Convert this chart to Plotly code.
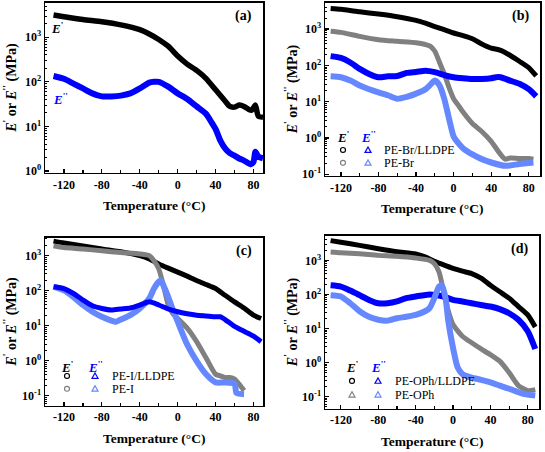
import plotly.graph_objects as go

W, H = 545, 452
FONT = "Times New Roman, Liberation Serif, serif"
BLACK = "#000000"
GRAY = "#808080"
BLUE = "#0000FF"
LBLUE = "#6688FF"

# ---------------- Panel (a): LLDPE ----------------
T_a_Ep = [-131, -120, -100, -80, -60, -40, -30, -20, -10, 0, 10, 20, 30, 40, 50, 55, 60, 65, 70, 75, 78, 82, 85, 90]
Ep_a = [3160, 2900, 2500, 2240, 1900, 1480, 1180, 890, 630, 380, 250, 180, 118, 66, 37, 28, 27, 30, 28, 24, 23, 30, 17, 16]
T_a_Epp = [-131, -120, -110, -100, -90, -80, -70, -60, -50, -40, -30, -25, -20, -10, 0, 10, 20, 30, 35, 40, 45, 50, 55, 60, 65, 70, 77, 80, 82, 85, 90]
Epp_a = [135, 117, 91, 71, 55, 47, 47, 49, 55, 71, 96, 100, 100, 78, 55, 41, 28, 19, 13, 8.7, 4.8, 3.2, 2.5, 2.2, 1.9, 1.7, 1.4, 1.6, 2.7, 2.1, 1.9]

# ---------------- Panel (b): PE-Br ----------------
T_b_Ep_mix = [-131, -120, -100, -80, -60, -40, -30, -20, -10, 0, 10, 20, 30, 40, 50, 60, 70, 80, 88]
Ep_b_mix = [3700, 3500, 3000, 2600, 2200, 1740, 1450, 1170, 960, 780, 660, 540, 390, 300, 260, 190, 130, 87, 51]
T_b_Ep_pure = [-131, -120, -100, -80, -60, -40, -30, -25, -20, -15, -10, -5, 0, 5, 10, 20, 30, 40, 50, 55, 60, 70, 80, 85]
Ep_b_pure = [870, 810, 630, 510, 460, 420, 375, 340, 245, 120, 58, 25, 12, 7.9, 5.2, 2.5, 1.5, 0.8, 0.35, 0.26, 0.28, 0.27, 0.27, 0.26]
T_b_Epp_mix = [-131, -120, -110, -100, -90, -80, -70, -60, -50, -40, -30, -20, -10, 0, 10, 20, 30, 40, 45, 50, 60, 70, 80, 88]
Epp_b_mix = [180, 160, 120, 80, 58, 47, 50, 51, 62, 66, 71, 65, 54, 47, 44, 42, 42, 44, 47, 47, 38, 31, 22, 14]
T_b_Epp_pure = [-131, -120, -110, -100, -90, -80, -70, -60, -50, -40, -30, -25, -20, -15, -10, -5, 0, 5, 10, 20, 30, 40, 55, 70, 85]
Epp_b_pure = [50, 47, 38, 28, 22, 18, 15, 12, 13.5, 16.6, 22, 29, 38, 28, 12, 3.5, 1.1, 0.72, 0.52, 0.35, 0.26, 0.21, 0.17, 0.19, 0.21]

# ---------------- Panel (c): PE-I ----------------
T_c_Ep_mix = [-131, -120, -100, -80, -60, -40, -30, -20, -10, 0, 10, 20, 30, 40, 50, 60, 70, 80, 88]
Ep_c_mix = [2600, 2300, 1900, 1550, 1290, 1000, 810, 580, 440, 340, 260, 195, 150, 115, 74, 48, 32, 20, 16]
T_c_Ep_pure = [-131, -120, -100, -80, -60, -40, -30, -25, -20, -15, -10, -5, 0, 10, 20, 30, 40, 45, 50, 55, 60, 65, 70]
Ep_c_pure = [1900, 1700, 1550, 1380, 1230, 1120, 1000, 720, 420, 140, 39, 22, 16, 8.5, 3.5, 1.2, 0.41, 0.37, 0.33, 0.33, 0.30, 0.21, 0.14]
T_c_Epp_mix = [-131, -120, -110, -100, -90, -80, -70, -60, -50, -40, -30, -20, -10, 0, 10, 20, 30, 40, 45, 50, 60, 70, 80, 88]
Epp_c_mix = [130, 115, 83, 54, 37, 31, 28, 30, 32, 39, 48, 39, 30, 25, 22, 20, 19, 18, 18, 15, 9.5, 6.9, 5.0, 3.5]
T_c_Epp_pure = [-131, -120, -110, -100, -90, -80, -70, -65, -60, -50, -40, -30, -25, -20, -18, -15, -10, -5, 0, 10, 20, 30, 40, 50, 60, 62, 70]
Epp_c_pure = [130, 102, 66, 39, 25, 18, 14, 13, 15, 20, 31, 60, 115, 180, 195, 140, 66, 28, 13, 2.9, 0.98, 0.41, 0.24, 0.24, 0.22, 0.12, 0.11]

# ---------------- Panel (d): PE-OPh ----------------
T_d_Ep_mix = [-131, -120, -100, -80, -60, -40, -30, -20, -10, 0, 10, 20, 30, 40, 50, 60, 70, 80, 88]
Ep_d_mix = [3800, 3400, 2750, 2200, 1800, 1550, 1260, 930, 740, 580, 480, 410, 300, 186, 120, 78, 44, 25, 11]
T_d_Ep_pure = [-131, -120, -100, -80, -60, -40, -25, -20, -15, -10, -5, 0, 10, 20, 30, 40, 50, 60, 70, 80, 88]
Ep_d_pure = [1750, 1660, 1550, 1400, 1320, 1170, 1000, 800, 460, 120, 32, 13, 5.9, 3.8, 2.5, 1.7, 1.1, 0.51, 0.21, 0.15, 0.16]
T_d_Epp_mix = [-131, -120, -110, -100, -90, -80, -70, -60, -50, -40, -25, -10, 0, 10, 20, 30, 40, 50, 60, 70, 80, 88]
Epp_d_mix = [185, 170, 130, 95, 69, 55, 55, 62, 78, 87, 100, 87, 69, 62, 55, 49, 44, 37, 28, 18, 8.3, 2.5]
T_d_Epp_pure = [-131, -120, -110, -100, -90, -80, -70, -60, -50, -40, -30, -25, -20, -15, -12, -8, -5, 0, 5, 10, 20, 30, 40, 50, 60, 75, 88]
Epp_d_pure = [95, 87, 55, 32, 22, 18, 17, 20, 22, 25, 32, 40, 78, 170, 185, 78, 16, 2.7, 0.71, 0.46, 0.36, 0.31, 0.26, 0.21, 0.17, 0.12, 0.107]

X_TICKS = [-120, -80, -40, 0, 40, 80]
X_TICKTEXT = ["-120", "-80", "-40", "0", "40", "80"]
Y_TICKS = [0.1, 1, 10, 100, 1000]
Y_TICKTEXT = ["10<sup>-1</sup>", "10<sup>0</sup>", "10<sup>1</sup>", "10<sup>2</sup>", "10<sup>3</sup>"]

# panel geometry in pixels: left, right, top, bottom, y log range, x range
panels = {
    "a": dict(l=45, r=263, t=3, b=175, yr=[-0.04, 3.77], xr=[-140, 90]),
    "b": dict(l=325, r=540, t=3, b=178, yr=[-1.04, 3.72], xr=[-137, 92]),
    "c": dict(l=45, r=263, t=241, b=411, yr=[-1.28, 3.51], xr=[-140, 90]),
    "d": dict(l=325, r=539, t=239, b=414, yr=[-1.35, 3.72], xr=[-137, 92]),
}

def px(x):
    return x / W

def py(y):
    return 1 - y / H

fig = go.Figure()
layout = dict(
    width=W, height=H, margin=dict(l=0, r=0, t=0, b=0),
    paper_bgcolor="white", plot_bgcolor="white", showlegend=False,
    font=dict(family=FONT, color="black"),
)

names = ["a", "b", "c", "d"]
for i, k in enumerate(names):
    p = panels[k]
    suf = "" if i == 0 else str(i + 1)
    layout["xaxis" + suf] = dict(
        domain=[px(p["l"]), px(p["r"])], anchor="y" + suf, range=p["xr"],
        tickmode="array", tickvals=X_TICKS, ticktext=X_TICKTEXT,
        ticks="inside", ticklen=4, tickwidth=1.2, tickcolor="black",
        minor=dict(ticks="inside", ticklen=3, tickwidth=1.2, dtick=20, tick0=0, tickcolor="black"),
        showline=True, linecolor="black", linewidth=1.5, mirror=True,
        showgrid=False, zeroline=False,
        tickfont=dict(family=FONT, size=12, weight="bold", color="black"),
    )
    layout["yaxis" + suf] = dict(
        domain=[py(p["b"]), py(p["t"])], anchor="x" + suf, type="log", range=p["yr"],
        tickmode="array", tickvals=Y_TICKS, ticktext=Y_TICKTEXT,
        ticks="inside", ticklen=4, tickwidth=1.2, tickcolor="black",
        minor=dict(ticks="inside", ticklen=2, tickwidth=1, dtick="D1", tickcolor="black"),
        showline=True, linecolor="black", linewidth=1.5, mirror=True,
        showgrid=False, zeroline=False,
        tickfont=dict(family=FONT, size=12, weight="bold", color="black"),
    )

def add(x, y, color, i, width=5):
    suf = "" if i == 0 else str(i + 1)
    fig.add_trace(go.Scatter(x=x, y=y, mode="lines", line=dict(color=color, width=width, shape="spline", smoothing=0.6),
                             xaxis="x" + suf, yaxis="y" + suf, hoverinfo="skip"))

add(T_a_Ep, Ep_a, BLACK, 0, 5.5)
add(T_a_Epp, Epp_a, BLUE, 0, 6)

add(T_b_Ep_mix, Ep_b_mix, BLACK, 1)
add(T_b_Ep_pure, Ep_b_pure, GRAY, 1)
add(T_b_Epp_mix, Epp_b_mix, BLUE, 1, 6)
add(T_b_Epp_pure, Epp_b_pure, LBLUE, 1, 6)

add(T_c_Ep_mix, Ep_c_mix, BLACK, 2)
add(T_c_Ep_pure, Ep_c_pure, GRAY, 2)
add(T_c_Epp_pure, Epp_c_pure, LBLUE, 2, 6)
add(T_c_Epp_mix, Epp_c_mix, BLUE, 2, 5)

add(T_d_Ep_mix, Ep_d_mix, BLACK, 3)
add(T_d_Ep_pure, Ep_d_pure, GRAY, 3)
add(T_d_Epp_mix, Epp_d_mix, BLUE, 3, 6)
add(T_d_Epp_pure, Epp_d_pure, LBLUE, 3, 6)

annotations = []
shapes = []

def ann(text, x, y, size=14, color="black", angle=0, xanchor="center", weight="bold"):
    annotations.append(dict(text=text, x=px(x), y=py(y), xref="paper", yref="paper",
                            showarrow=False, textangle=angle, xanchor=xanchor, yanchor="middle",
                            font=dict(family=FONT, size=size, color=color, weight=weight)))

YTITLE = "<i>E</i><sup>'</sup> or <i>E</i><sup>''</sup> (MPa)"
XTITLE = "Temperature (°C)"
labels = ["(a)", "(b)", "(c)", "(d)"]
for i, k in enumerate(names):
    p = panels[k]
    cx = (p["l"] + p["r"]) / 2
    cy = (p["t"] + p["b"]) / 2
    ann(XTITLE, cx, p["b"] + 33, size=13.5)
    ann(YTITLE, p["l"] - 34, cy, size=14, angle=-90)
    ann(labels[i], p["r"] - 9, p["t"] + 13, size=14, xanchor="right")

# panel (a) curve labels
ann("<i>E</i><sup>'</sup>", 57, 28, size=13)
ann("<i>E</i><sup>''</sup>", 60, 100, size=13, color=BLUE)

def circle(x, y, color, r=2.5):
    shapes.append(dict(type="circle", xref="paper", yref="paper",
                       x0=px(x - r), x1=px(x + r), y0=py(y + r), y1=py(y - r),
                       line=dict(color=color, width=1.2)))

def tri(x, y, color, r=3):
    path = "M {} {} L {} {} L {} {} Z".format(px(x - r), py(y + r * 0.8), px(x + r), py(y + r * 0.8), px(x), py(y - r))
    shapes.append(dict(type="path", xref="paper", yref="paper", path=path,
                       line=dict(color=color, width=1.2)))

legend_spec = {
    "b": dict(x1=343, x2=368, xt=382, yh=139, y1=152, y2=165, names=["PE-Br/LLDPE", "PE-Br"], sym2="circle"),
    "c": dict(x1=67, x2=95, xt=110, yh=372, y1=381, y2=394, names=["PE-I/LLDPE", "PE-I"], sym2="circle"),
    "d": dict(x1=352, x2=378, xt=393, yh=372, y1=386, y2=400, names=["PE-OPh/LLDPE", "PE-OPh"], sym2="tri"),
}
for k, s in legend_spec.items():
    ann("<i>E</i><sup>'</sup>", s["x1"], s["yh"], size=13)
    ann("<i>E</i><sup>''</sup>", s["x2"], s["yh"], size=13, color=BLUE)
    circle(s["x1"], s["y1"], BLACK)
    tri(s["x2"], s["y1"], BLUE)
    if s["sym2"] == "circle":
        circle(s["x1"], s["y2"], GRAY)
    else:
        tri(s["x1"], s["y2"], GRAY)
    tri(s["x2"], s["y2"], LBLUE)
    ann(s["names"][0], s["xt"], s["y1"], size=12, xanchor="left", weight="normal")
    ann(s["names"][1], s["xt"], s["y2"], size=12, xanchor="left", weight="normal")

layout["annotations"] = annotations
layout["shapes"] = shapes
fig.update_layout(**layout)
fig.write_html(
    "out.html",
    config={"displayModeBar": False, "staticPlot": True},
    post_script="document.body.style.margin='0';document.body.style.padding='0';document.body.style.overflow='hidden';",
)
